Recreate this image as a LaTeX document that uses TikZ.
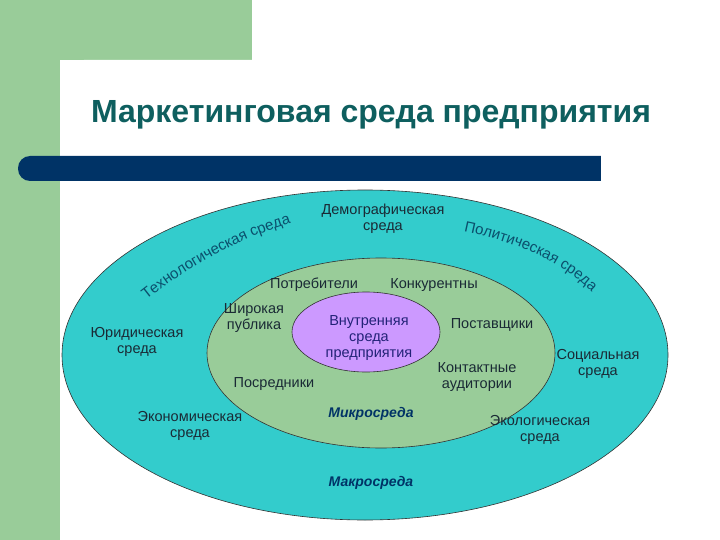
\documentclass[tikz,border=0pt]{standalone}
\usepackage{fontspec}
\setmainfont{Liberation Sans}
\usetikzlibrary{decorations.text}
\definecolor{sidegreen}{HTML}{99CC99}
\definecolor{barblue}{HTML}{003366}
\definecolor{titlecol}{HTML}{0E5F5F}
\definecolor{macrocol}{HTML}{33CCCC}
\definecolor{microcol}{HTML}{99CC99}
\definecolor{innercol}{HTML}{CC99FF}
\definecolor{labelcol}{HTML}{1A2A35}
\definecolor{curvecol}{HTML}{0B4F6C}
\definecolor{innertext}{HTML}{222277}
\tikzset{
  lbl/.style={font=\fontsize{14.5}{16}\selectfont, text=labelcol, align=center, inner sep=0pt},
  zone/.style={font=\fontsize{14}{16}\selectfont\bfseries\itshape, text=barblue, inner sep=0pt},
  ring/.style={draw=black!80, line width=0.6pt}
}
\begin{document}
\begin{tikzpicture}[x=1pt,y=-1pt]
\useasboundingbox (0,0) rectangle (720,540);
% background
\fill[sidegreen] (0,0) rectangle (252,60);
\fill[sidegreen] (0,0) rectangle (60,540);
\fill[white, rounded corners=24pt] (60,60) rectangle (800,620);
% title
\node[font=\fontsize{32}{36}\selectfont\bfseries, text=titlecol, inner sep=0pt] (title) at (371,115) {Маркетинговая среда предприятия};
% bar
\fill[barblue, rounded corners=12pt] (18,156) rectangle (640,181);
\fill[barblue] (300,156) rectangle (601,181);
\fill[white] (601,150) rectangle (650,190);
% ellipses
\fill[ring, fill=macrocol] (365,355) ellipse [x radius=303pt, y radius=165pt];
\fill[ring, fill=microcol] (381,353) ellipse [x radius=174pt, y radius=95pt];
\fill[ring, fill=innercol] (366,332) ellipse [x radius=74pt, y radius=40pt];
% curved labels
\path[postaction={decorate}, decoration={text along path, text align=center,
  text={|\fontsize{15}{17}\selectfont\color{curvecol}|Технологическая среда}}]
  (144,302) .. controls (190,265) and (240,238) .. (294,222);
\path[postaction={decorate}, decoration={text along path, text align=center,
  text={|\fontsize{15}{17}\selectfont\color{curvecol}|Политическая среда}}]
  (458,230) .. controls (510,240) and (562,260) .. (596,296);
% labels
\node[lbl] (demo) at (383,219) {Демографическая\\среда};
\node[lbl] (potr) at (314,285) {Потребители};
\node[lbl] (konk) at (434,285) {Конкурентны};
\node[lbl] (yur) at (137,342) {Юридическая\\среда};
\node[lbl] (shir) at (254,318) {Широкая\\публика};
\node[lbl, text=innertext] (vnut) at (369,338) {Внутренняя\\среда\\предприятия};
\node[lbl] (post) at (492,325) {Поставщики};
\node[lbl] (kont) at (477,377) {Контактные\\аудитории};
\node[lbl] (soc) at (598,364) {Социальная\\среда};
\node[lbl] (posr) at (274,384) {Посредники};
\node[lbl] (econ) at (190,426) {Экономическая\\среда};
\node[lbl] (ecol) at (540,430) {Экологическая\\среда};
\node[zone] (micro) at (371,414) {Микросреда};
\node[zone] (macro) at (371,483) {Макросреда};
\end{tikzpicture}
\end{document}
